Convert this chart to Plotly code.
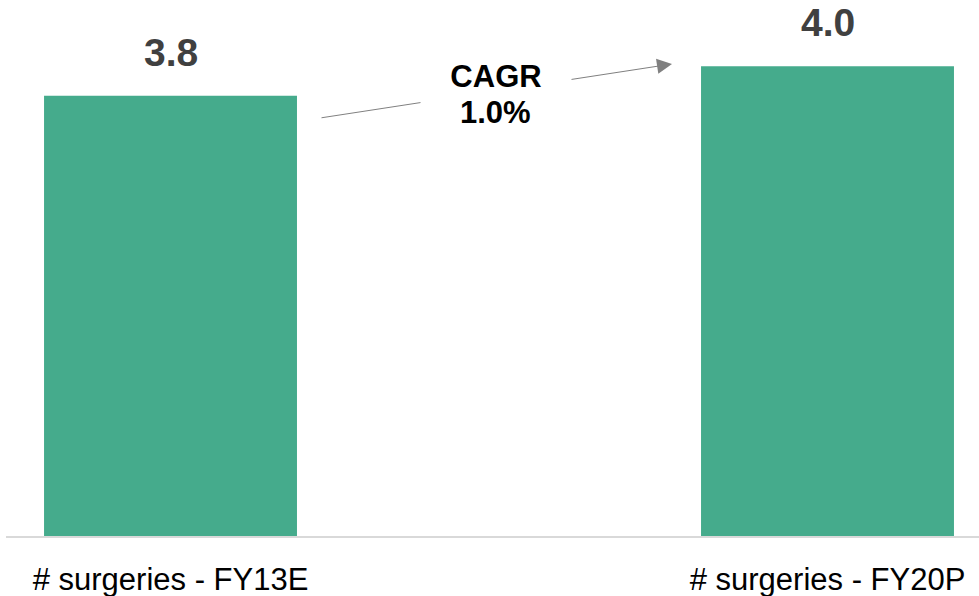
import plotly.graph_objects as go

categories = ["# surgeries - FY13E", "# surgeries - FY20P"]
values = [3.75, 4.0]
value_labels = ["3.8", "4.0"]
cagr_label = ["CAGR", "1.0%"]

W, H = 979, 596
ML, MR, MT, MB = 6, 0, 0, 60
PW, PH = W - ML - MR, H - MT - MB

def px(x):
    return (x - ML) / PW

def py(y):
    return (H - MB - y) / PH

BAR = "#45AB8C"
FONT = "Liberation Sans, Arial"
fig = go.Figure()
fig.add_trace(go.Bar(x=[0, 1], y=values, width=0.385, marker=dict(color=BAR, line=dict(width=0)),
                     hoverinfo="skip"))

annotations = []
for i, (v, t) in enumerate(zip(values, value_labels)):
    annotations.append(dict(x=i, y=v, xref="x", yref="y", text=t, showarrow=False,
                            yanchor="bottom", yshift=20,
                            font=dict(family=FONT, size=39, color="#404040", weight="bold")))

# arrow
annotations.append(dict(x=px(672), y=py(64), xref="paper", yref="paper",
                        ax=320 - 672, ay=118 - 64, axref="pixel", ayref="pixel",
                        showarrow=True, arrowhead=2, arrowsize=3, arrowwidth=1,
                        arrowcolor="#808080", text=""))
# CAGR text with white box interrupting the arrow
annotations.append(dict(x=px(496), y=py(58), xref="paper", yref="paper", text=cagr_label[0],
                        showarrow=False, yanchor="top", xanchor="center",
                        width=150, height=70, valign="top", bgcolor="white", borderpad=0,
                        font=dict(family=FONT, size=31, color="#000000", weight="bold")))
annotations.append(dict(x=px(495), y=py(113), xref="paper", yref="paper", text=cagr_label[1],
                        showarrow=False, yanchor="middle",
                        font=dict(family=FONT, size=31, color="#000000", weight="bold")))

fig.update_layout(
    width=W, height=H,
    margin=dict(l=ML, r=MR, t=MT, b=MB, autoexpand=False),
    paper_bgcolor="white", plot_bgcolor="white",
    showlegend=False,
    annotations=annotations,
    xaxis=dict(tickmode="array", tickvals=[0, 1], ticktext=categories,
               range=[-0.2504, 1.2306], showgrid=False, zeroline=False,
               showline=True, linecolor="#d9d9d9", linewidth=2, ticks="",
               ticklabelstandoff=15, automargin=False,
               tickfont=dict(family=FONT, size=31, color="#000000")),
    yaxis=dict(range=[0, 4.565], visible=False, showgrid=False, zeroline=False, automargin=False),
)

fig.write_html("out.html", config={"displayModeBar": False},
               post_script="document.body.style.margin='0px';document.body.style.overflow='hidden';")
